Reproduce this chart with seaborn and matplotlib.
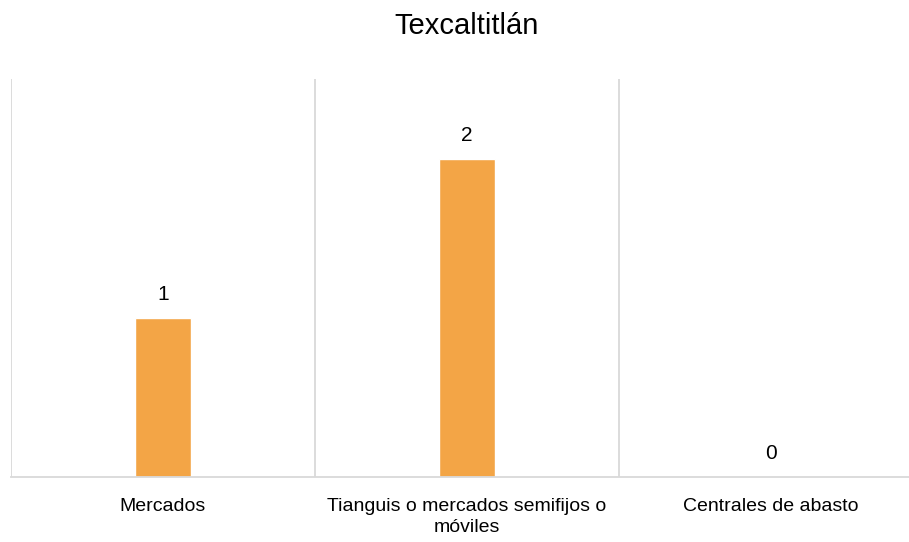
import numpy as np
import pandas as pd
import matplotlib
matplotlib.use('Agg')
import matplotlib.pyplot as plt
import seaborn as sns

# Data
CATEGORIES = ['Mercados', 'Tianguis o mercados semifijos o\nmóviles',
              'Centrales de abasto']
VALUES = [1, 2, 0]
TITLE = 'Texcaltitlán'

BAR_COLOR = '#F3A546'
GRID_COLOR = '#D9D9D9'


def main():
    sns.set_style('white')
    plt.rcParams['font.family'] = ['Liberation Sans', 'DejaVu Sans']
    plt.rcParams['text.color'] = 'black'
    plt.rcParams['xtick.color'] = 'black'
    plt.rcParams['xtick.labelcolor'] = 'black'

    df = pd.DataFrame({'tipo': CATEGORIES, 'n': VALUES})

    fig = plt.figure(figsize=(9.09, 5.42), dpi=100)
    # the plot area runs a little past the right edge, as in the original
    ax = fig.add_axes([11 / 909, 65 / 542, 912 / 909, 398 / 542])

    sns.barplot(data=df, x='tipo', y='n', color=BAR_COLOR, width=0.184,
                saturation=1, ax=ax)
    ax.set_xlim(-0.5, len(CATEGORIES) - 0.5)
    ax.set_ylim(0, 2.5)

    for cont in ax.containers:
        ax.bar_label(cont, labels=[str(v) for v in VALUES], padding=10,
                     fontsize=15, color='black')

    # separators between categories
    ax.set_xticks(np.arange(len(CATEGORIES) + 1) - 0.5, minor=True)
    ax.grid(which='minor', axis='x', color=GRID_COLOR, linewidth=1.3)
    ax.tick_params(axis='x', which='both', length=0, pad=15, labelsize=14)
    for lbl in ax.get_xticklabels():
        lbl.set_linespacing(1.35)
    ax.set_yticks([])
    ax.set_xlabel('')
    ax.set_ylabel('')
    for side in ['left', 'right', 'top']:
        ax.spines[side].set_visible(False)
    ax.spines['bottom'].set_color(GRID_COLOR)
    ax.spines['bottom'].set_linewidth(1.3)

    fig.text(467 / 909, 1 - 26 / 542, TITLE, ha='center', va='center',
             fontsize=21, color='black')

    fig.savefig('out.png', dpi=100)


if __name__ == '__main__':
    main()
